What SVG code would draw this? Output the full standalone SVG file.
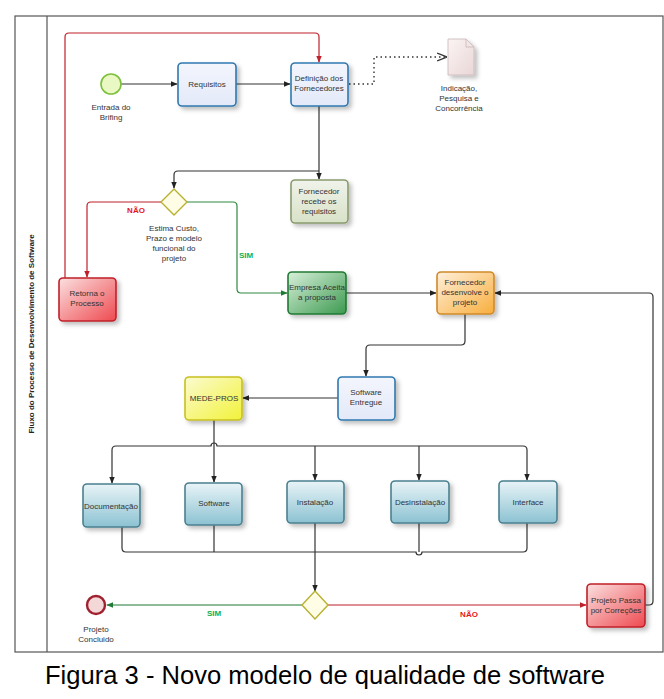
<svg xmlns="http://www.w3.org/2000/svg" width="664" height="699" viewBox="0 0 664 699">
<defs>
<linearGradient id="gBlue" x1="0" y1="0" x2="0" y2="1"><stop offset="0" stop-color="#f4f6fd"/><stop offset="1" stop-color="#e3e9f9"/></linearGradient>
<linearGradient id="gGray" x1="0" y1="0" x2="0" y2="1"><stop offset="0" stop-color="#f0f3ea"/><stop offset="1" stop-color="#d8e2c8"/></linearGradient>
<linearGradient id="gRed" x1="0" y1="0" x2="1" y2="1"><stop offset="0" stop-color="#fbe0e0"/><stop offset="1" stop-color="#ee4a50"/></linearGradient>
<linearGradient id="gGreen" x1="0" y1="0" x2="1" y2="1"><stop offset="0" stop-color="#d8f0da"/><stop offset="1" stop-color="#3c9a50"/></linearGradient>
<linearGradient id="gOrange" x1="0" y1="0" x2="1" y2="1"><stop offset="0" stop-color="#fff0dc"/><stop offset="1" stop-color="#f8ae3c"/></linearGradient>
<linearGradient id="gYellow" x1="0" y1="0" x2="1" y2="1"><stop offset="0" stop-color="#fbfbd0"/><stop offset="1" stop-color="#f2f23a"/></linearGradient>
<linearGradient id="gTeal" x1="0" y1="0" x2="0" y2="1"><stop offset="0" stop-color="#e8f4f7"/><stop offset="1" stop-color="#8cc2d2"/></linearGradient>
<linearGradient id="gDoc" x1="0" y1="0" x2="1" y2="1"><stop offset="0" stop-color="#fbf4f4"/><stop offset="1" stop-color="#ead6d6"/></linearGradient>
<marker id="aK" viewBox="0 0 10 10" refX="9" refY="5" markerWidth="6" markerHeight="6" orient="auto"><path d="M0,1 L10,5 L0,9 z" fill="#222"/></marker>
<marker id="aR" viewBox="0 0 10 10" refX="9" refY="5" markerWidth="6" markerHeight="6" orient="auto"><path d="M0,1 L10,5 L0,9 z" fill="#c0202a"/></marker>
<marker id="aG" viewBox="0 0 10 10" refX="9" refY="5" markerWidth="6" markerHeight="6" orient="auto"><path d="M0,1 L10,5 L0,9 z" fill="#207a33"/></marker>
<marker id="aO" viewBox="0 0 10 10" refX="9" refY="5" markerWidth="7" markerHeight="7" orient="auto"><path d="M0,1 L10,5 L0,9" fill="none" stroke="#333" stroke-width="1.2"/></marker>
<filter id="sh" x="-20%" y="-20%" width="150%" height="150%"><feDropShadow dx="3" dy="3" stdDeviation="2" flood-color="#000" flood-opacity="0.25"/></filter>
</defs>
<style>
text{font-family:"Liberation Sans",Arial,sans-serif;font-size:8px;fill:#333;text-anchor:middle}
.box{filter:url(#sh);stroke-width:1.6}
.k{fill:none;stroke:#333;stroke-width:1.2}
.r{fill:none;stroke:#c0202a;stroke-width:1.2}
.g{fill:none;stroke:#2e8a40;stroke-width:1.2}
.lr{fill:#e8141c;font-weight:bold}
.lg{fill:#10b050;font-weight:bold}
</style>
<rect x="15" y="16" width="648" height="636" fill="#fff" stroke="#555" stroke-width="1.2"/>
<line x1="47" y1="16" x2="47" y2="652" stroke="#555" stroke-width="1.2"/>
<text transform="translate(34,334) rotate(-90)" style="font-weight:bold;font-size:8px;fill:#222">Fluxo do Processo de Desenvolvimento de Software</text>

<g id="connectors">
<path class="k" d="M121,84 H177" marker-end="url(#aK)"/>
<path class="k" d="M236,84 H290" marker-end="url(#aK)"/>
<path d="M349,84 H374 V57 H446" fill="none" stroke="#333" stroke-width="1.4" stroke-dasharray="1.5,3" marker-end="url(#aO)"/>
<path class="k" d="M319,106 V179" marker-end="url(#aK)"/>
<path class="k" d="M319,171 H178 Q174,171 174,175 V188" marker-end="url(#aK)"/>
<path class="r" d="M65,278 V37 Q65,33 69,33 H315 Q319,33 319,37 V62" marker-end="url(#aR)"/>
<path class="r" d="M161,202 H91 Q87,202 87,206 V277" marker-end="url(#aR)"/>
<path class="g" d="M187,202 H233 Q237,202 237,206 V289 Q237,293 241,293 H287" marker-end="url(#aG)"/>
<path class="k" d="M346,293 H436" marker-end="url(#aK)"/>
<path class="k" d="M645,605 H649 Q653,605 653,601 V297 Q653,293 649,293 H495" marker-end="url(#aK)"/>
<path class="k" d="M465,314 V341 Q465,345 461,345 H370 Q366,345 366,349 V376" marker-end="url(#aK)"/>
<path class="k" d="M338,398 H243" marker-end="url(#aK)"/>
<path class="k" d="M214,420 V482" marker-end="url(#aK)"/>
<path class="k" d="M116,446 H211 A3,3 0 0 1 217,446 H523 Q527,446 527,450 V480" marker-end="url(#aK)"/>
<path class="k" d="M116,446 Q112,446 112,450 V483" marker-end="url(#aK)"/>
<path class="k" d="M315,446 V480" marker-end="url(#aK)"/>
<path class="k" d="M419,446 V480" marker-end="url(#aK)"/>
<path class="k" d="M122,527 V548 Q122,552 126,552 H416 A3,3 0 0 0 422,552 H523 Q527,552 527,548 V523"/>
<path class="k" d="M214,525 V552"/>
<path class="k" d="M315,523 V591" marker-end="url(#aK)"/>
<path class="k" d="M419,523 V552"/>
<path d="M302,605 H107" fill="none" stroke="#207a33" stroke-width="1.2" marker-end="url(#aG)"/>
<path class="r" d="M328,605 H586" marker-end="url(#aR)"/>
</g>
<text x="136" y="213" class="lr">NÃO</text>
<text x="246" y="258" class="lg">SIM</text>
<text x="214" y="616" class="lg">SIM</text>
<text x="469" y="617" class="lr">NÃO</text>

<g id="start"><circle cx="111" cy="84" r="10" fill="#eaf8c4" stroke="#7cc03c" stroke-width="1.6"/><text x="111" y="110">Entrada do</text><text x="111" y="120">Brifing</text></g>
<g id="requisitos"><rect class="box" x="178" y="63" width="58" height="43" rx="4" fill="url(#gBlue)" stroke="#2f78b0"/><text x="207" y="87">Requisitos</text></g>
<g id="definicao"><rect class="box" x="291" y="63" width="57" height="43" rx="4" fill="url(#gBlue)" stroke="#2f78b0"/><text x="319" y="81">Definição dos</text><text x="319" y="91">Fornecedores</text></g>
<g id="doc"><path d="M448,39 H466 L474,47 V75 H448 Z" fill="url(#gDoc)" stroke="#c8b8b8" stroke-width="0.8" filter="url(#sh)"/><path d="M466,39 V47 H474" fill="none" stroke="#c8b8b8" stroke-width="0.8"/><text x="459" y="91">Indicação,</text><text x="459" y="101">Pesquisa e</text><text x="459" y="111">Concorrência</text></g>
<g id="fornecedor-recebe"><rect class="box" x="291" y="180" width="57" height="43" rx="4" fill="url(#gGray)" stroke="#8b9b6e"/><text x="319" y="194">Fornecedor</text><text x="319" y="204">recebe os</text><text x="319" y="214">requisitos</text></g>
<g id="gateway1"><path d="M174,189 L187,202 L174,215 L161,202 Z" fill="#fffde6" stroke="#b8b030" stroke-width="1.4"/><text x="174" y="231">Estima Custo,</text><text x="174" y="241">Prazo e modelo</text><text x="174" y="251">funcional do</text><text x="174" y="261">projeto</text></g>
<g id="retorna"><rect class="box" x="59" y="278" width="57" height="43" rx="4" fill="url(#gRed)" stroke="#c0202a"/><text x="87" y="296">Retorna o</text><text x="87" y="306">Processo</text></g>
<g id="empresa"><rect class="box" x="288" y="272" width="58" height="42" rx="4" fill="url(#gGreen)" stroke="#207a33"/><text x="317" y="290">Empresa Aceita</text><text x="317" y="300">a proposta</text></g>
<g id="fornecedor-desenvolve"><rect class="box" x="437" y="272" width="57" height="42" rx="4" fill="url(#gOrange)" stroke="#d08a2a"/><text x="465" y="285">Fornecedor</text><text x="465" y="295">desenvolve o</text><text x="465" y="305">projeto</text></g>
<g id="software-entregue"><rect class="box" x="338" y="377" width="57" height="43" rx="4" fill="url(#gBlue)" stroke="#2f78b0"/><text x="366" y="395">Software</text><text x="366" y="405">Entregue</text></g>
<g id="mede-pros"><rect class="box" x="185" y="377" width="57" height="43" rx="4" fill="url(#gYellow)" stroke="#c8c020"/><text x="214" y="401">MEDE-PROS</text></g>
<g id="documentacao"><rect class="box" x="83" y="484" width="57" height="43" rx="4" fill="url(#gTeal)" stroke="#4a8090"/><text x="111" y="509">Documentação</text></g>
<g id="software"><rect class="box" x="185" y="483" width="57" height="42" rx="4" fill="url(#gTeal)" stroke="#4a8090"/><text x="214" y="506">Software</text></g>
<g id="instalacao"><rect class="box" x="287" y="481" width="57" height="42" rx="4" fill="url(#gTeal)" stroke="#4a8090"/><text x="315" y="505">Instalação</text></g>
<g id="desinstalacao"><rect class="box" x="391" y="481" width="58" height="42" rx="4" fill="url(#gTeal)" stroke="#4a8090"/><text x="420" y="505">Desinstalação</text></g>
<g id="interface"><rect class="box" x="499" y="481" width="58" height="42" rx="4" fill="url(#gTeal)" stroke="#4a8090"/><text x="528" y="505">Interface</text></g>
<g id="gateway2"><path d="M315,591 L328,605 L315,619 L302,605 Z" fill="#fffde6" stroke="#b8b030" stroke-width="1.4"/></g>
<g id="end"><circle cx="96" cy="605" r="9" fill="#f4d8d8" stroke="#a02030" stroke-width="2.4"/><text x="96" y="632">Projeto</text><text x="96" y="642">Concluido</text></g>
<g id="projeto-passa"><rect class="box" x="587" y="584" width="58" height="43" rx="4" fill="url(#gRed)" stroke="#c0202a"/><text x="616" y="603">Projeto Passa</text><text x="616" y="613">por Correções</text></g>
<text x="45" y="684" style="text-anchor:start;font-size:25px;fill:#000" textLength="560" lengthAdjust="spacingAndGlyphs">Figura 3 - Novo modelo de qualidade de software</text>
</svg>
